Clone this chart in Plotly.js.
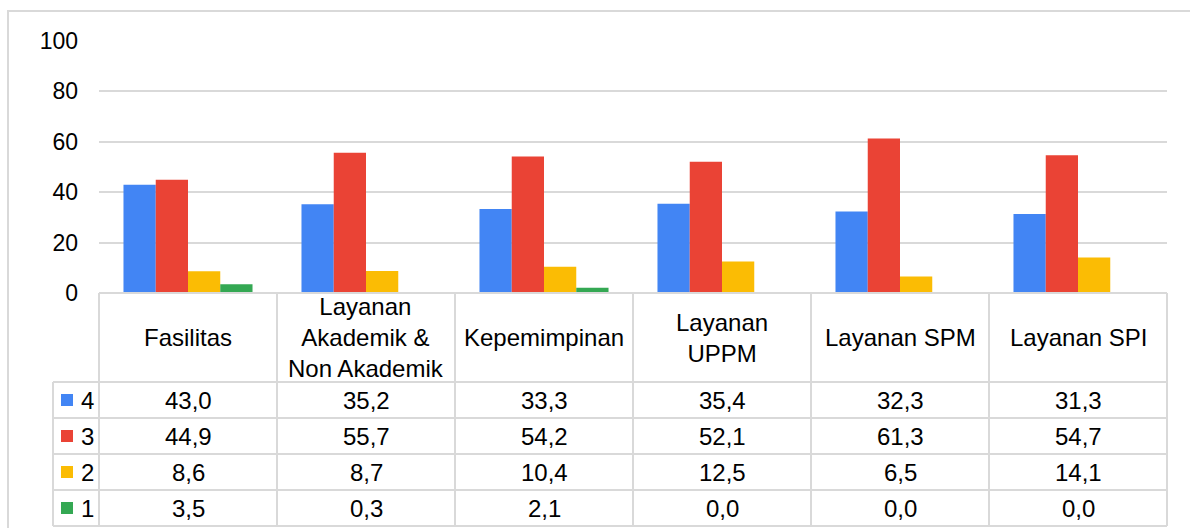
<!DOCTYPE html>
<html>
<head>
<meta charset="utf-8">
<script src="https://cdn.plot.ly/plotly-3.0.1.min.js"></script>
<style>
    body { margin: 0; background: #ffffff; }
    #chart { width: 1190px; height: 528px; }
</style>
</head>
<body>
<div id="chart"></div>
<script>
const categories = ['Fasilitas', 'Layanan Akademik & Non Akademik', 'Kepemimpinan',
    'Layanan UPPM', 'Layanan SPM', 'Layanan SPI'];
const headerLabels = ['Fasilitas', 'Layanan<br>Akademik &<br>Non Akademik', 'Kepemimpinan',
    'Layanan<br>UPPM', 'Layanan SPM', 'Layanan SPI'];
const seriesNames = ['4', '3', '2', '1'];
const values4 = [43.0, 35.2, 33.3, 35.4, 32.3, 31.3];
const values3 = [44.9, 55.7, 54.2, 52.1, 61.3, 54.7];
const values2 = [8.6, 8.7, 10.4, 12.5, 6.5, 14.1];
const values1 = [3.5, 0.3, 2.1, 0.0, 0.0, 0.0];
const yTicks = [0, 20, 40, 60, 80, 100];

const seriesValues = [values4, values3, values2, values1];
const colors = ['#4285F4', '#EA4335', '#FBBC04', '#34A853'];
const gridColor = '#d9d9d9';
const font = {family: 'Liberation Sans, Arial, sans-serif', size: 23, color: '#000000'};
const tableFont = {family: 'Liberation Sans, Arial, sans-serif', size: 24, color: '#000000'};

// plot area in pixels, the table hangs below it
const plotL = 99, plotR = 1167, plotT = 41, plotB = 293;
const headerBottom = 382, rowH = 36, legendLeft = 53;

function px(x) { return (x - plotL) / (plotR - plotL); }
function py(y) { return (plotB - y) / (plotB - plotT); }
function fmt(v) { return v.toFixed(1).replace('.', ','); }

let data = seriesValues.map((vals, i) => ({
    type: 'bar',
    x: categories,
    y: vals,
    name: seriesNames[i],
    marker: {color: colors[i], line: {width: 0}},
    hoverinfo: 'x+y+name',
}));

let shapes = [];
let annotations = [];

function line(x0, y0, x1, y1) {
    shapes.push({
        type: 'line', xref: 'paper', yref: 'paper',
        x0: px(x0), y0: py(y0), x1: px(x1), y1: py(y1),
        line: {color: gridColor, width: 2},
    });
}

// outer chart border (runs off the right and bottom edges)
shapes.push({
    type: 'rect', xref: 'paper', yref: 'paper',
    x0: px(8), y0: py(11), x1: px(1200), y1: py(560),
    line: {color: gridColor, width: 2},
});

const n = categories.length;
const tableBottom = headerBottom + rowH * seriesNames.length;
const colW = (plotR - plotL) / n;

// table grid
line(plotL, plotB, plotR, plotB);
for (let r = 0; r <= seriesNames.length; r++) {
    const y = headerBottom + r * rowH;
    line(legendLeft, y, plotR, y);
}
line(legendLeft, headerBottom, legendLeft, tableBottom);
for (let c = 0; c <= n; c++) {
    const x = plotL + c * colW;
    line(x, plotB, x, tableBottom);
}

// header cells
headerLabels.forEach((label, c) => {
    annotations.push({
        xref: 'paper', yref: 'paper',
        x: px(plotL + (c + 0.5) * colW), y: py((plotB + headerBottom) / 2),
        text: label, showarrow: false, font: tableFont,
        xanchor: 'center', yanchor: 'middle', align: 'center',
    });
});

// data rows with legend keys
seriesNames.forEach((name, r) => {
    const yc = headerBottom + (r + 0.5) * rowH;
    shapes.push({
        type: 'rect', xref: 'paper', yref: 'paper',
        x0: px(61), x1: px(73), y0: py(yc - 6), y1: py(yc + 6),
        fillcolor: colors[r], line: {width: 0},
    });
    annotations.push({
        xref: 'paper', yref: 'paper', x: px(79), y: py(yc),
        text: name, showarrow: false, font: tableFont,
        xanchor: 'left', yanchor: 'middle',
    });
    seriesValues[r].forEach((v, c) => {
        annotations.push({
            xref: 'paper', yref: 'paper',
            x: px(plotL + (c + 0.5) * colW), y: py(yc),
            text: fmt(v), showarrow: false, font: tableFont,
            xanchor: 'center', yanchor: 'middle',
        });
    });
});

let layout = {
    width: 1190,
    height: 528,
    margin: {l: plotL, r: 1190 - plotR, t: plotT, b: 528 - plotB, pad: 0},
    paper_bgcolor: '#ffffff',
    plot_bgcolor: '#ffffff',
    font: font,
    showlegend: false,
    barmode: 'group',
    bargap: 0.275,
    bargroupgap: 0,
    xaxis: {
        type: 'category',
        showticklabels: false,
        showgrid: false,
        zeroline: false,
        showline: false,
        ticks: '',
        fixedrange: true,
    },
    yaxis: {
        range: [0, 100],
        tickvals: yTicks,
        ticktext: yTicks.map(String),
        showgrid: true,
        gridcolor: gridColor,
        gridwidth: 2,
        zeroline: false,
        showline: false,
        ticks: '',
        ticklabelstandoff: 20,
        tickfont: font,
        fixedrange: true,
    },
    shapes: shapes,
    annotations: annotations,
};

let config = {
    displayModeBar: false,
    staticPlot: true,
};

Plotly.newPlot(document.getElementById('chart'), data, layout, config);
</script>
</body>
</html>
